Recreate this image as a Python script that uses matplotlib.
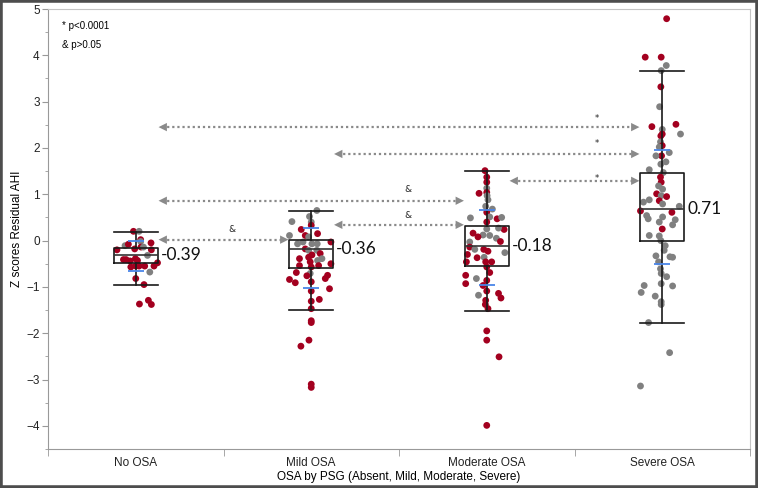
import matplotlib
matplotlib.use("Agg")
import matplotlib.pyplot as plt
from matplotlib.patches import Rectangle

# categories and summary values
groups = ["No OSA", "Mild OSA", "Moderate OSA", "Severe OSA"]
mean_labels = ["-0.39", "-0.36", "-0.18", "0.71"]
whis_lo = [-0.96, -1.49, -1.52, -1.77]
q1 = [-0.48, -0.60, -0.54, -0.01]
median = [-0.31, -0.19, -0.12, 0.68]
q3 = [-0.15, 0.01, 0.32, 1.46]
whis_hi = [0.19, 0.63, 1.51, 3.67]
sd_hi = [0.00, 0.27, 0.65, 1.96]
sd_lo = [-0.65, -1.02, -0.96, -0.51]

# individual points: z value, jitter (fraction of a category), colour (r = red, g = grey)
no_z = [0.20, 0.20, 0.02, -0.02, -0.05, -0.11, -0.08, -0.20, -0.18, -0.14,
        -0.14, -0.20, -0.32, -0.41, -0.41, -0.44, -0.39, -0.43, -0.48, -0.57,
        -0.55, -0.55, -0.55, -0.55, -0.68, -0.82, -0.95, -1.37, -1.29, -1.38]
no_jit = [-0.013, 0.019, 0.028, 0.028, 0.087, -0.061, -0.042, -0.107, -0.006, 0.030,
          0.044, 0.089, 0.067, -0.070, -0.055, -0.032, -0.002, 0.010, 0.124, -0.028,
          0.0, 0.019, 0.051, 0.104, 0.080, 0.0, 0.047, 0.021, 0.072, 0.089]
no_col = "rgrgrgrrrrgrgrrrrrrrrrrrgrrrrr"

mild_z = [0.65, 0.52, 0.41, 0.40, 0.33, 0.24, 0.15, 0.11, 0.11, 0.08,
          -0.03, -0.07, -0.03, -0.07, -0.07, -0.18, -0.21, -0.21, -0.28, -0.31,
          -0.39, -0.43, -0.39, -0.36, -0.46, -0.50, -0.54, -0.54, -0.57, -0.69,
          -0.71, -0.76, -0.75, -0.82, -0.84, -0.91, -0.89, -1.04, -1.09, -1.27,
          -1.31, -1.47, -1.73, -1.77, -2.15, -2.28, -3.10, -3.17]
mild_jit = [0.032, -0.010, -0.110, 0.0, 0.0, -0.057, 0.036, -0.124, -0.034, -0.015,
            0.112, -0.078, -0.047, 0.004, 0.034, -0.034, -0.015, 0.032, 0.051, 0.004,
            0.061, 0.036, -0.067, -0.015, -0.006, 0.112, -0.067, 0.042, 0.0, -0.085,
            -0.006, -0.025, 0.093, 0.080, -0.124, -0.091, 0.0, 0.104, 0.0, 0.046,
            0.0, 0.0, 0.0, 0.0, -0.013, -0.059, 0.0, 0.0]
mild_col = "ggggrrrgrgrggggrggrrggrrrrrrrrgrrrrrrrrrrrrrrrrr"[:48]

mod_z = [1.51, 1.37, 1.26, 1.13, 1.02, 1.04, 0.97, 0.88, 0.74, 0.68,
         0.61, 0.49, 0.51, 0.47, 0.50, 0.40, 0.24, 0.27, 0.16, 0.25,
         0.12, 0.11, 0.08, 0.05, -0.02, -0.03, -0.14, -0.19, -0.23, -0.19,
         -0.26, -0.30, -0.37, -0.36, -0.46, -0.46, -0.46, -0.57, -0.69, -0.75,
         -0.82, -0.86, -0.93, -0.97, -1.09, -1.18, -1.14, -1.24, -1.29, -1.38,
         -1.47, -1.95, -2.15, -2.51, -3.99]
mod_jit = [-0.010, 0.0, 0.0, 0.0, -0.044, 0.0, 0.002, 0.007, -0.006, 0.032,
           0.0, -0.093, 0.017, 0.059, 0.085, 0.0, 0.099, 0.067, -0.078, 0.0,
           -0.021, 0.017, -0.050, 0.055, 0.078, -0.097, -0.097, -0.068, 0.007, -0.017,
           0.103, -0.110, -0.055, -0.015, -0.116, -0.006, 0.028, 0.0, 0.017, -0.120,
           -0.059, 0.0, -0.120, -0.021, 0.0, -0.047, 0.067, 0.081, -0.006, -0.008,
           0.007, 0.0, 0.0, 0.070, 0.0]
mod_col = "rrrgrrggggrggrgrrgrgggrgrgrgrrgrrgrrrrrrgrrrrgrrrrrrrrr"[:55]

sev_z = [4.79, 3.96, 3.96, 3.78, 3.67, 3.32, 2.89, 2.46, 2.51, 2.30,
         2.40, 2.30, 2.26, 2.13, 2.05, 2.02, 1.90, 1.83, 1.83, 1.70,
         1.65, 1.53, 1.47, 1.37, 1.26, 1.18, 1.11, 1.01, 0.97, 0.95,
         0.83, 0.88, 0.86, 0.79, 0.74, 0.64, 0.54, 0.61, 0.45, 0.47,
         0.51, 0.40, 0.34, 0.25, 0.11, 0.10, 0.00, -0.11, -0.21, -0.33,
         -0.35, -0.36, -0.46, -0.61, -0.71, -0.78, -0.93, -0.97, -0.98, -1.12,
         -1.20, -1.32, -1.38, -1.77, -2.42, -3.14]
sev_jit = [0.025, -0.097, -0.006, 0.023, -0.006, -0.008, -0.015, -0.059, 0.078, 0.104,
           0.0, 0.0, -0.008, -0.010, 0.0, -0.017, 0.040, -0.004, -0.036, 0.021,
           -0.008, -0.074, 0.006, -0.010, -0.006, -0.021, 0.002, -0.032, -0.006, 0.025,
           -0.107, -0.074, -0.017, 0.002, 0.097, -0.124, -0.089, 0.055, 0.074, -0.080,
           0.002, -0.017, 0.059, 0.0, -0.074, -0.017, -0.008, 0.017, 0.011, -0.036,
           0.044, 0.059, -0.021, -0.010, -0.006, 0.025, -0.006, -0.103, 0.059, -0.120,
           -0.040, -0.006, -0.006, -0.078, 0.042, -0.124]
sev_col = "rrrggrgrrggrrgrggrgggggrrggrgrggrggrgrgggggrgggggggggggggggggggggg"[:66]

# pairwise comparisons: from group, to group, z level, mark
cmp_from = [0, 1, 2, 0, 1, 0]
cmp_to = [3, 3, 3, 2, 2, 1]
cmp_y = [2.45, 1.87, 1.29, 0.86, 0.34, 0.02]
cmp_mark = ["*", "*", "*", "&", "&", "&"]
mark_y = [2.64, 2.10, 1.35, 1.11, 0.55, 0.23]

RED = "#A3001F"
GREY = "#808080"
ARROW = "#8a8a8a"


def draw_arrow(ax, x0, x1, y):
    # dotted shaft plus two solid heads
    ax.plot([x0 + 0.02, x1 - 0.02], [y, y], color=ARROW, lw=1.6,
            linestyle=(0, (1, 1.3)), zorder=1)
    for tip, base in ((x0, x0 + 0.04), (x1, x1 - 0.04)):
        ax.annotate("", xy=(tip, y), xytext=(base, y),
                    arrowprops=dict(arrowstyle="-|>,head_length=0.6,head_width=0.3",
                                    color=ARROW, lw=0, shrinkA=0, shrinkB=0),
                    zorder=1)


fig = plt.figure(figsize=(7.58, 4.88), dpi=100)
ax = fig.add_axes([48 / 758, 1 - 449 / 488, 702 / 758, 440 / 488])

# jittered points
all_z = [no_z, mild_z, mod_z, sev_z]
all_jit = [no_jit, mild_jit, mod_jit, sev_jit]
all_col = [no_col, mild_col, mod_col, sev_col]
for i in range(len(groups)):
    xs = [i + j for j in all_jit[i]]
    cols = [RED if c == "r" else GREY for c in all_col[i]]
    ax.scatter(xs, all_z[i], s=24, c=cols, linewidths=0, zorder=2)

# boxes
stats = []
for i in range(len(groups)):
    stats.append(dict(whislo=whis_lo[i], q1=q1[i], med=median[i], q3=q3[i],
                      whishi=whis_hi[i], fliers=[]))
ax.bxp(stats, positions=range(len(groups)), widths=0.25, showfliers=False,
       boxprops=dict(color="#1a1a1a", lw=1.2),
       whiskerprops=dict(color="#1a1a1a", lw=1.2),
       capprops=dict(color="#1a1a1a", lw=1.2),
       medianprops=dict(color="#333333", lw=1.2),
       capwidths=0.25, manage_ticks=False, zorder=3)

# mean +/- sd marks and mean labels
for i in range(len(groups)):
    ax.hlines([sd_hi[i], sd_lo[i]], i - 0.045, i + 0.045, color="#4a86e8", lw=1.3, zorder=4)
    ax.text(i + 0.142, median[i], mean_labels[i], fontsize=12.5, family="Lato",
            va="center", ha="left", color="#111111", zorder=5)

# comparison arrows
for k in range(len(cmp_y)):
    draw_arrow(ax, cmp_from[k] + 0.13, cmp_to[k] - 0.13, cmp_y[k])
    if cmp_mark[k] == "*":
        ax.text(cmp_to[k] - 0.375, mark_y[k], "*", fontsize=6, ha="center",
                va="center", color="#222222")
    else:
        ax.text(cmp_to[k] - 0.45, mark_y[k], "&", fontsize=6.5, ha="center",
                va="center", color="#222222")

ax.text(0.02, 0.962, "* p<0.0001", transform=ax.transAxes, fontsize=7,
        family="Liberation Sans", va="center")
ax.text(0.02, 0.919, "& p>0.05", transform=ax.transAxes, fontsize=7,
        family="Liberation Sans", va="center")

# axes
ax.set_xlim(-0.5, 3.5)
ax.set_ylim(-4.47, 5.0)
ax.set_yticks(range(-4, 6))
ax.set_yticks([v + 0.5 for v in range(-5, 5)], minor=True)
ax.set_xticks(range(len(groups)))
ax.set_xticklabels(groups)
ax.set_xticks([-0.5, 0.5, 1.5, 2.5, 3.5], minor=True)
ax.tick_params(axis="x", which="major", length=0, pad=6, labelsize=8.5)
ax.tick_params(axis="x", which="minor", length=5, color="#999999")
ax.tick_params(axis="y", which="major", length=4, color="#999999", labelsize=8.5, pad=2)
ax.tick_params(axis="y", which="minor", length=2, color="#999999")
for lab in ax.get_xticklabels() + ax.get_yticklabels():
    lab.set_family("Liberation Sans")
    lab.set_color("#222222")

for side in ["left", "bottom"]:
    ax.spines[side].set_color("#999999")
for side in ["top", "right"]:
    ax.spines[side].set_color("#c4c4c4")

ax.set_ylabel("Z scores Residual AHI", fontsize=8.5, family="Liberation Sans")
ax.yaxis.set_label_coords(-0.036, 0.5)
ax.set_xlabel("OSA by PSG (Absent, Mild, Moderate, Severe)", fontsize=8.5,
              family="Liberation Sans")
ax.xaxis.set_label_coords(0.5, -0.05)

# outer frame
fig.patches.append(Rectangle((0, 0), 1, 1, transform=fig.transFigure, fill=False,
                             edgecolor="#4d4d4d", lw=4))

plt.savefig("out.png", dpi=100)
